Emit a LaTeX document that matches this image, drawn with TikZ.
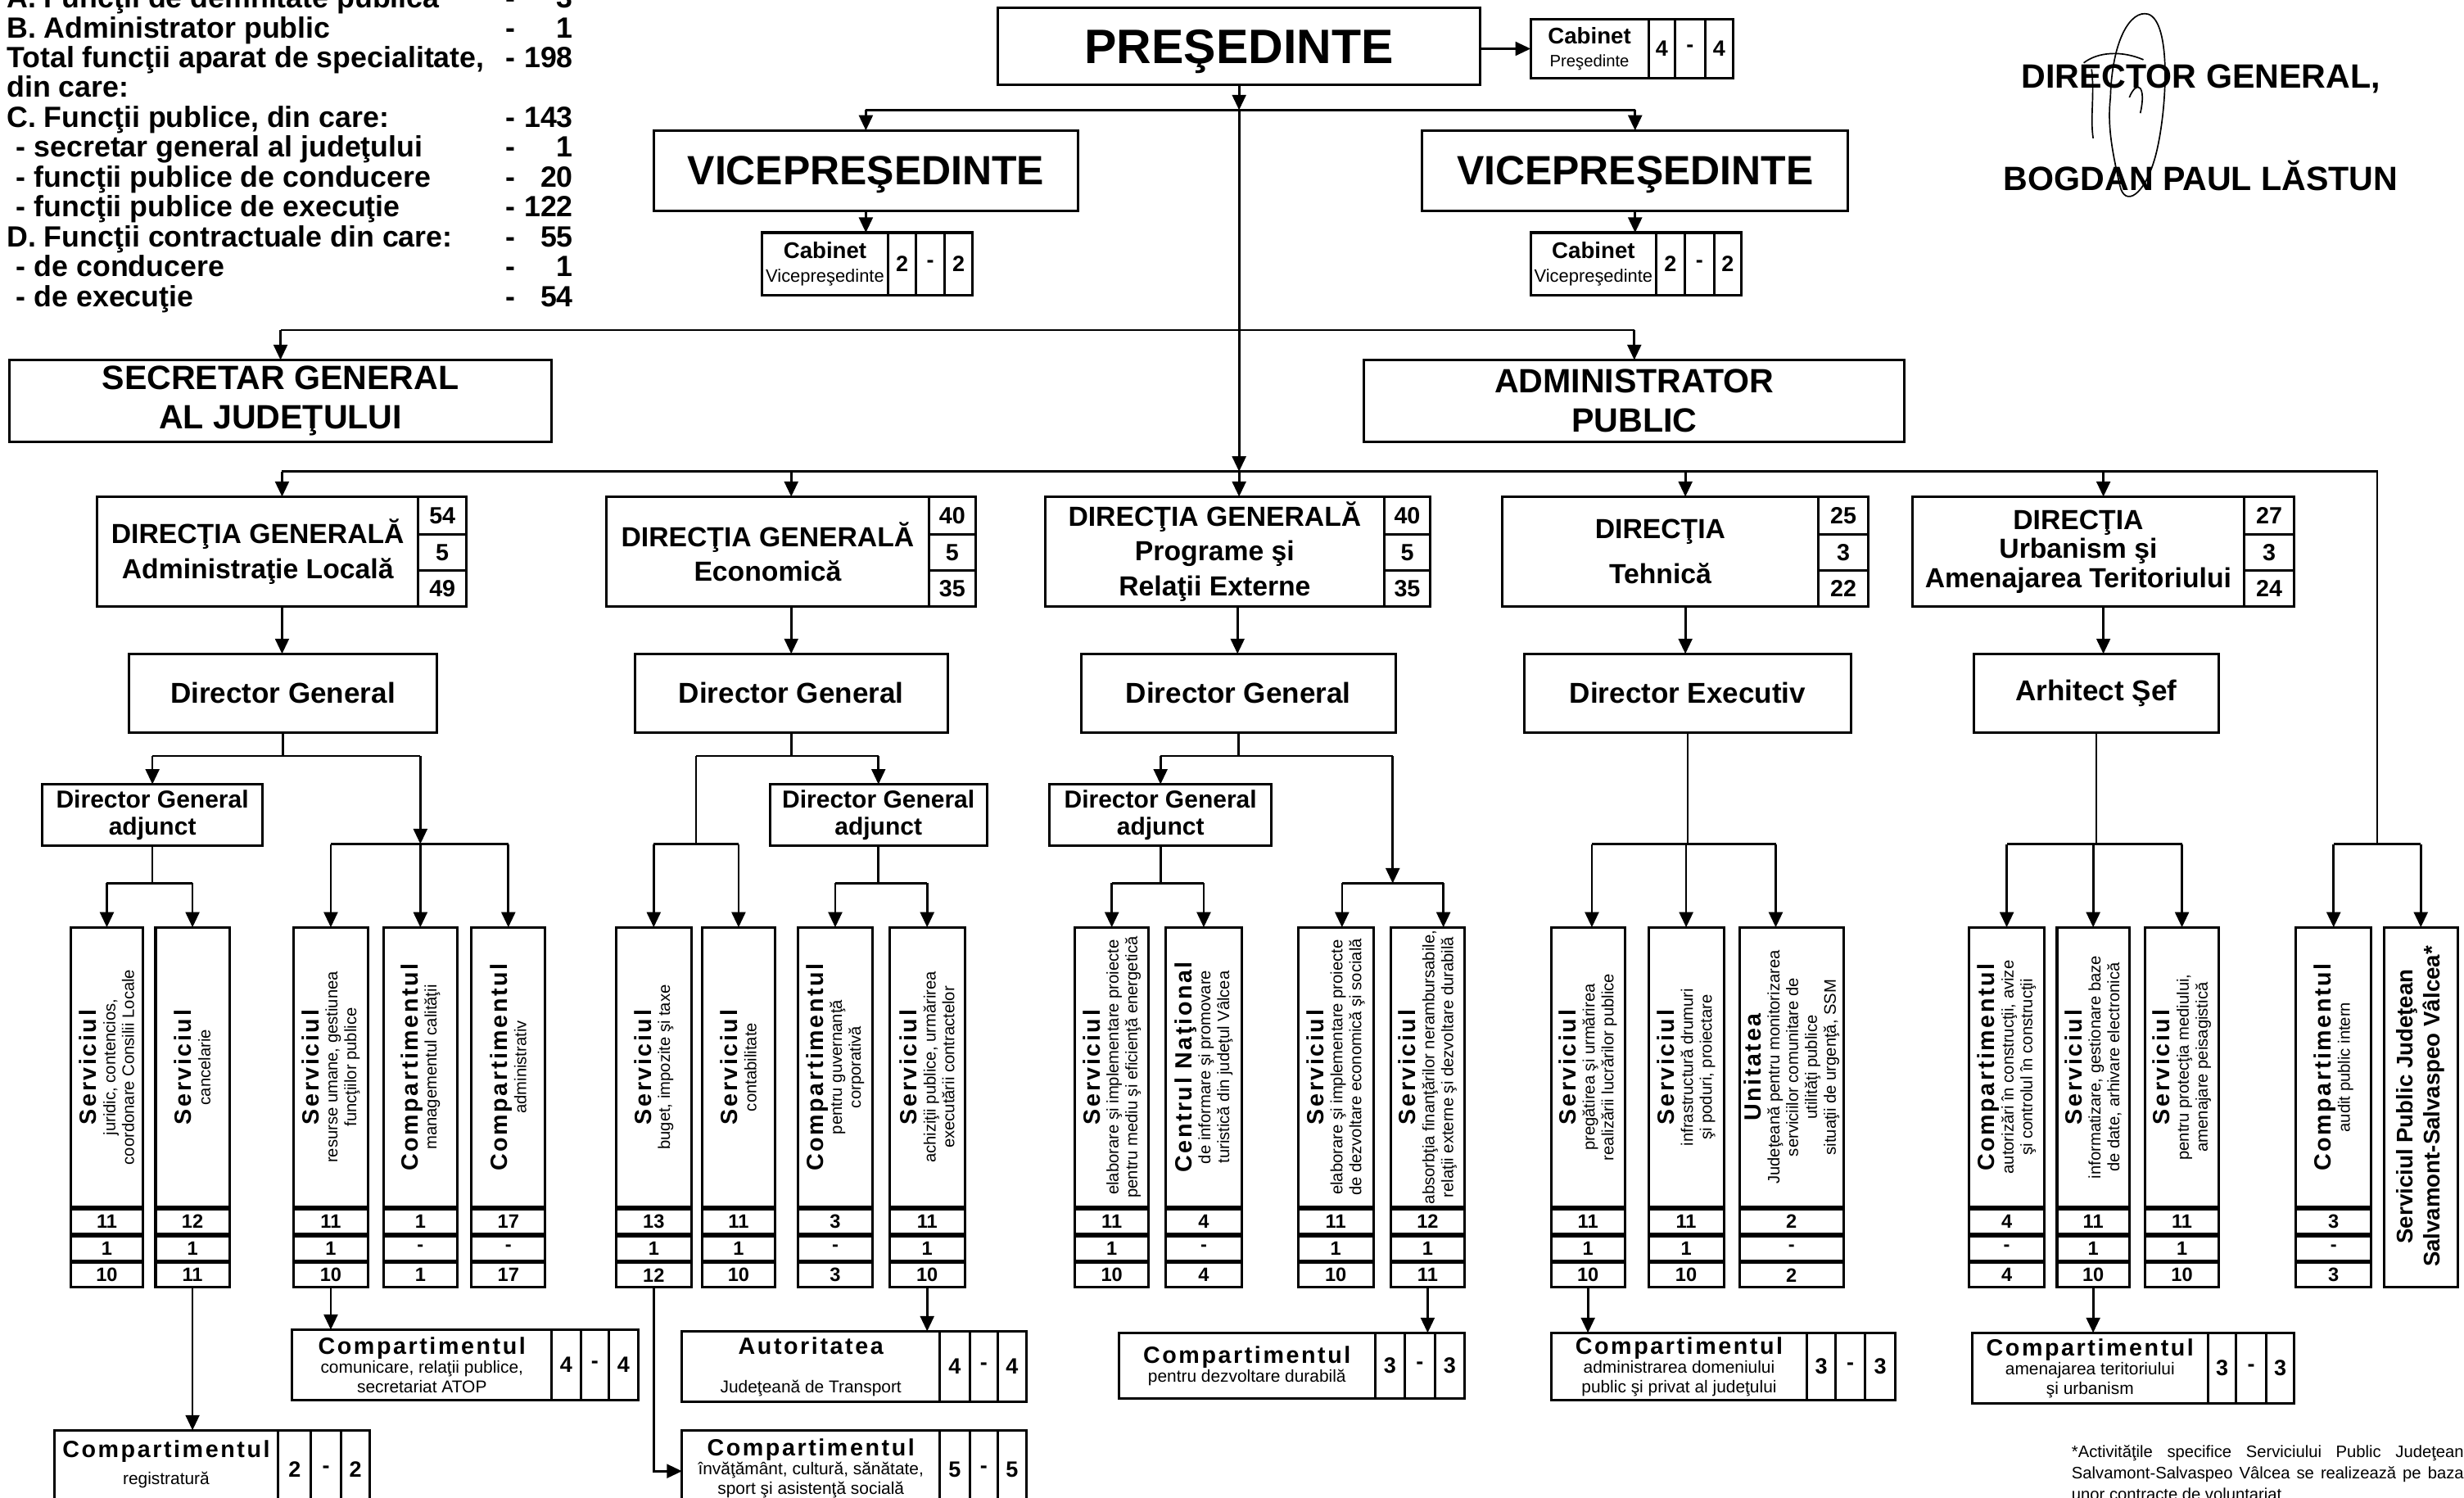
\documentclass[tikz,border=0pt]{standalone}
\usepackage{fontspec}
\setmainfont{Liberation Sans}
\newfontfamily\spcfam{Liberation Sans}[LetterSpace=9]
\usetikzlibrary{arrows.meta,calc}
\newcommand\fsz[2]{\fontsize{#1}{#2}\selectfont}
\newcommand\ttl[1]{{\spcfam\bfseries\fsz{8.5}{9}#1}}
\newcommand\vnum{\bfseries\fsz{7}{8}}
\newcommand\cnum{\bfseries\fsz{8}{9}}
\newcommand\dnum{\bfseries\fsz{8.5}{9}}
\tikzset{
  bx/.style={draw,line width=0.9pt,inner sep=0pt,outer sep=0pt,align=center},
  con/.style={line width=0.8pt},
  arr/.style={line width=0.8pt,-{Triangle[length=5.5pt,width=5pt]}},
  stat/.style={inner sep=0pt,font=\bfseries\fsz{10.6}{12}},
}
% box from corners: [opts]{x1}{y1}{x2}{y2}{name}{text}
\newcommand\bx[7][]{\node[bx,minimum width={(#4-#2)*0.02cm},minimum height={(#5-#3)*0.02cm},#1] (#6) at ({(#2+#4)/2},{(#3+#5)/2}) {#7};}
% three number cells: name, xa, xb, xc, xd, y1, y2, n1, n3
\newcommand\tri[9]{%
  \bx[font=\cnum]{#2}{#6}{#3}{#7}{#1a}{#8}%
  \bx[font=\cnum]{#3}{#6}{#4}{#7}{#1b}{-}%
  \bx[font=\cnum]{#4}{#6}{#5}{#7}{#1c}{#9}}
% vertical column: name, x1, x2, content, n1, n2, n3
\newcommand\col[7]{%
  \bx{#2}{590}{#3}{768}{#1}{}%
  \node[rotate=90,align=center,inner sep=0pt,font=\fsz{6}{6.8}] (#1t) at ({(#2+#3)/2},679) {#4};%
  \bx[font=\vnum]{#2}{769.5}{#3}{785}{#1a}{#5}%
  \bx[font=\vnum]{#2}{786.5}{#3}{802}{#1b}{#6}%
  \bx[font=\vnum]{#2}{803.5}{#3}{819}{#1c}{#7}}
% direction box: name, x1, xcells, x2, text, n1, n2, n3
\newcommand\dgbox[8]{%
  \bx{#2}{316}{#4}{386}{#1}{}%
  \node[font=\bfseries\fsz{10}{12.5},align=center,inner sep=0pt] (#1x) at ({(#2+#3)/2},351) {#5};%
  \bx[font=\dnum]{#3}{316}{#4}{340}{#1a}{#6}%
  \bx[font=\dnum]{#3}{340}{#4}{363}{#1b}{#7}%
  \bx[font=\dnum]{#3}{363}{#4}{386}{#1c}{#8}}
\newcommand\statline[4]{\node[stat,anchor=base west] (sl#1) at (#2,#3) {#4};}
\newcommand\statnum[3]{\node[stat,anchor=base] (sd#1) at (325,#2) {-};\node[stat,anchor=base east] (sn#1) at (365,#2) {#3};}
\begin{document}
\begin{tikzpicture}[x=0.02cm,y=-0.02cm]
\useasboundingbox (0,0) rectangle (1568,953);
\fill[white] (0,0) rectangle (1568,953);

% ---------- statistics ----------
\statline{1}{4}{5}{A. Funcţii de demnitate publică}\statnum{1}{5}{3}
\statline{2}{4}{24}{B. Administrator public}\statnum{2}{24}{1}
\statline{3}{4}{43}{Total funcţii aparat de specialitate,}\statnum{3}{43}{198}
\statline{4}{4}{62}{din care:}
\statline{5}{4}{81}{C. Funcţii publice, din care:}\statnum{5}{81}{143}
\statline{6}{10}{100}{- secretar general al judeţului}\statnum{6}{100}{1}
\statline{7}{10}{119}{- funcţii publice de conducere}\statnum{7}{119}{20}
\statline{8}{10}{138}{- funcţii publice de execuţie}\statnum{8}{138}{122}
\statline{9}{4}{157}{D. Funcţii contractuale din care:}\statnum{9}{157}{55}
\statline{10}{10}{176}{- de conducere}\statnum{10}{176}{1}
\statline{11}{10}{195}{- de execuţie}\statnum{11}{195}{54}

% ---------- signature ----------
\node[font=\bfseries\fsz{12.2}{14},inner sep=0pt] (sig1) at (1400.5,50) {DIRECTOR GENERAL,};
\node[font=\bfseries\fsz{12.2}{14},inner sep=0pt] (sig2) at (1400.5,112) {BOGDAN PAUL LĂSTUN};
\draw[line width=0.5pt] (1343,62) .. controls (1344,25) and (1356,6) .. (1367,9) .. controls (1382,14) and (1379,70) .. (1372,98) .. controls (1365,125) and (1352,132) .. (1349,118) .. controls (1344,96) and (1341,80) .. (1343,62);
\draw[line width=0.5pt] (1326,40) .. controls (1335,33) and (1350,32) .. (1364,38);
\draw[line width=0.5pt] (1331,44) .. controls (1333,60) and (1330,75) .. (1332,88);
\draw[line width=0.5pt] (1355,62) .. controls (1360,50) and (1366,55) .. (1362,72);

% ---------- top level ----------
\bx[font=\bfseries\fsz{17.5}{20},text depth=0pt]{635}{5}{942}{54}{pres}{PREŞEDINTE}
\bx[font=\fsz{6}{8.5}]{974}{12}{1049}{50}{cpt}{{\bfseries\fsz{8.2}{9}Cabinet}\\Preşedinte}
\tri{cp}{1049}{1066}{1085}{1103}{12}{50}{4}{4}
\bx[font=\bfseries\fsz{14.8}{17},text depth=0pt]{416}{83}{686}{134}{vp1}{VICEPREŞEDINTE}
\bx[font=\bfseries\fsz{14.8}{17},text depth=0pt]{905}{83}{1176}{134}{vp2}{VICEPREŞEDINTE}
\bx[font=\fsz{6.5}{8.5}]{485}{148}{565}{188}{cv1t}{{\bfseries\fsz{8.2}{9}Cabinet}\\Vicepreşedinte}
\tri{cv1}{565}{583}{601}{619}{148}{188}{2}{2}
\bx[font=\fsz{6.5}{8.5}]{974}{148}{1054}{188}{cv2t}{{\bfseries\fsz{8.2}{9}Cabinet}\\Vicepreşedinte}
\tri{cv2}{1054}{1072}{1091}{1108}{148}{188}{2}{2}
\bx[font=\bfseries\fsz{12.2}{14.2}]{6}{229}{351}{281}{sec}{SECRETAR GENERAL\\AL JUDEŢULUI}
\bx[font=\bfseries\fsz{12.2}{14.2}]{868}{229}{1212}{281}{adm}{ADMINISTRATOR\\PUBLIC}

% ---------- directions ----------
\dgbox{dg1}{62}{266}{297}{DIRECŢIA GENERALĂ\\Administraţie Locală}{54}{5}{49}
\dgbox{dg2}{386}{591}{621}{DIRECŢIA GENERALĂ\\Economică}{40}{5}{35}
\dgbox{dg3}{665}{881}{910}{DIRECŢIA GENERALĂ\\Programe şi\\Relaţii Externe}{40}{5}{35}
\dgbox{dg4}{956}{1157}{1189}{DIRECŢIA\\[4pt]Tehnică}{25}{3}{22}
\dgbox{dg5}{1217}{1428}{1460}{DIRECŢIA\\[-2pt]Urbanism şi\\[-2pt]Amenajarea Teritoriului}{27}{3}{24}

\bx[font=\bfseries\fsz{10.4}{12}]{82}{416}{278}{466}{dir1}{Director General}
\bx[font=\bfseries\fsz{10.4}{12}]{404}{416}{603}{466}{dir2}{Director General}
\bx[font=\bfseries\fsz{10.4}{12}]{688}{416}{888}{466}{dir3}{Director General}
\bx[font=\bfseries\fsz{10.4}{12}]{970}{416}{1178}{466}{dir4}{Director Executiv}
\bx[font=\bfseries\fsz{10.4}{12}]{1256}{416}{1412}{466}{dir5}{Arhitect Şef}

\bx[font=\bfseries\fsz{8.9}{9.8}]{27}{499}{167}{538}{adj1}{Director General\\adjunct}
\bx[font=\bfseries\fsz{8.9}{9.8}]{490}{499}{628}{538}{adj2}{Director General\\adjunct}
\bx[font=\bfseries\fsz{8.9}{9.8}]{668}{499}{809}{538}{adj3}{Director General\\adjunct}

% ---------- columns ----------
\col{s11}{45}{91}{\ttl{Serviciul}\\juridic, contencios,\\coordonare Consilii Locale}{11}{1}{10}
\col{s12}{99}{146}{\ttl{Serviciul}\\cancelarie}{12}{1}{11}
\col{s13}{187}{234}{\ttl{Serviciul}\\resurse umane, gestiunea\\funcţiilor publice}{11}{1}{10}
\col{s14}{244}{291}{\ttl{Compartimentul}\\managementul calităţii}{1}{-}{1}
\col{s15}{300}{347}{\ttl{Compartimentul}\\administrativ}{17}{-}{17}
\col{s21}{392}{440}{\ttl{Serviciul}\\buget, impozite şi taxe}{13}{1}{12}
\col{s22}{447}{493}{\ttl{Serviciul}\\contabilitate}{11}{1}{10}
\col{s23}{508}{555}{\ttl{Compartimentul}\\pentru guvernanţă\\corporativă}{3}{-}{3}
\col{s24}{566}{614}{\ttl{Serviciul}\\achiziţii publice, urmărirea\\executării contractelor}{11}{1}{10}
\col{s31}{684}{731}{\ttl{Serviciul}\\elaborare şi implementare proiecte\\pentru mediu şi eficienţă energetică}{11}{1}{10}
\col{s32}{742}{790}{\ttl{Centrul Naţional}\\de informare şi promovare\\turistică din judeţul Vâlcea}{4}{-}{4}
\col{s33}{826}{874}{\ttl{Serviciul}\\elaborare şi implementare proiecte\\de dezvoltare economică şi socială}{11}{1}{10}
\col{s34}{885}{932}{\ttl{Serviciul}\\absorbţia finanţărilor nerambursabile,\\relaţii externe şi dezvoltare durabilă}{12}{1}{11}
\col{s41}{987}{1034}{\ttl{Serviciul}\\pregătirea şi urmărirea\\realizării lucrărilor publice}{11}{1}{10}
\col{s42}{1049}{1097}{\ttl{Serviciul}\\infrastructură drumuri\\şi poduri, proiectare}{11}{1}{10}
\col{s43}{1107}{1173}{\ttl{Unitatea}\\Judeţeană pentru monitorizarea\\serviciilor comunitare de\\utilităţi publice\\situaţii de urgenţă, SSM}{2}{-}{2}
\col{s51}{1253}{1301}{\ttl{Compartimentul}\\autorizări în construcţii, avize\\şi controlul în construcţii}{4}{-}{4}
\col{s52}{1309}{1355}{\ttl{Serviciul}\\informatizare, gestionare baze\\de date, arhivare electronică}{11}{1}{10}
\col{s53}{1365}{1412}{\ttl{Serviciul}\\pentru protecţia mediului,\\amenajare peisagistică}{11}{1}{10}
\col{s61}{1461}{1509}{\ttl{Compartimentul}\\audit public intern}{3}{-}{3}
\bx{1517}{590}{1564}{819}{s62}{}
\node[rotate=90,align=center,inner sep=0pt,font=\bfseries\fsz{8.2}{9.8}] (s62t) at (1540.5,704) {Serviciul Public Judeţean\\Salvamont-Salvaspeo Vâlcea*};

% ---------- bottom boxes ----------
\bx{34.5}{910}{177}{962}{regt}{}
\node[align=center,inner sep=0pt,anchor=north,font=\fsz{6.2}{8}] (regx) at ($(regt.north)+(0,6)$) {\ttl{Compartimentul}\\[2pt]registratură};
\tri{reg}{177}{198}{217}{235.5}{910}{960}{2}{2}
\bx[font=\fsz{6.2}{7}]{186}{846}{351}{891}{comt}{\ttl{Compartimentul}\\comunicare, relaţii publice,\\secretariat ATOP}
\tri{com}{351}{369.5}{387.6}{406}{846}{891}{4}{4}
\bx[font=\fsz{6.2}{7}]{434}{847}{598}{892}{autt}{\ttl{Autoritatea}\\[7pt]Judeţeană de Transport}
\tri{aut}{598}{617}{635}{653}{847}{892}{4}{4}
\bx{434}{910}{598}{962}{invt}{}
\node[align=center,inner sep=0pt,anchor=north,font=\fsz{6.2}{7}] (invx) at ($(invt.north)+(0,5)$) {\ttl{Compartimentul}\\învăţământ, cultură, sănătate,\\sport şi asistenţă socială};
\tri{inv}{598}{617}{635}{653}{910}{960}{5}{5}
\bx[font=\fsz{6.2}{7}]{712}{848}{875}{890}{ddt}{\ttl{Compartimentul}\\pentru dezvoltare durabilă}
\tri{dd}{875}{894}{913}{932}{848}{890}{3}{3}
\bx[font=\fsz{6.2}{7}]{987}{848}{1150}{891}{domt}{\ttl{Compartimentul}\\administrarea domeniului\\public şi privat al judeţului}
\tri{dom}{1150}{1168}{1187}{1206}{848}{891}{3}{3}
\bx[font=\fsz{6.2}{7}]{1255}{848}{1405}{893}{amet}{\ttl{Compartimentul}\\amenajarea teritoriului\\şi urbanism}
\tri{ame}{1405}{1423}{1442}{1460}{848}{893}{3}{3}

\node[anchor=north west,inner sep=0pt,text width=142pt,align=justify,font=\fsz{6}{7.7},execute at begin node={\hyphenpenalty=10000\exhyphenpenalty=10000}] (note) at (1318,919) {*Activităţile specifice Serviciului Public Judeţean Salvamont-Salvaspeo Vâlcea se realizează pe baza unor contracte de voluntariat};

% ---------- connectors: top ----------
\coordinate (j0) at ($(pres.south)+(0,16)$);
\coordinate (j1) at ($(pres.south)+(0,156)$);
\coordinate (j2) at ($(pres.south)+(0,246)$);
\draw[arr] (pres.south) -- (j0);
\draw[arr] (pres.east |- cpt.west) -- (cpt.west);
\draw[con] (vp1.north |- j0) -- (vp2.north |- j0);
\draw[arr] (vp1.north |- j0) -- (vp1.north);
\draw[arr] (vp2.north |- j0) -- (vp2.north);
\draw[arr] (vp1.south) -- (vp1.south |- cv1t.north);
\draw[arr] (vp2.south) -- (vp2.south |- cv2t.north);
\draw[arr] (j0) -- (j2);
\draw[con] (sec.north |- j1) -- (adm.north |- j1);
\draw[arr] (sec.north |- j1) -- (sec.north);
\draw[arr] (adm.north |- j1) -- (adm.north);
\coordinate (r0) at ($(s61.north)!0.5!(s62.north)$);
\coordinate (a3) at ($(s14.north)+(0,-53)$);
\draw[con] (dg1.north |- j2) -- (r0 |- j2) -- (r0 |- a3);
\foreach \d in {dg1,dg2,dg4,dg5} \draw[arr] (\d.north |- j2) -- (\d.north);
\draw[arr] (j2) -- (j2 |- dg3.north);
\foreach \d/\e in {dg1/dir1,dg2/dir2,dg3/dir3,dg4/dir4,dg5/dir5} \draw[arr] (\d.south) -- (\d.south |- \e.north);

% ---------- Administratie Locala ----------
\coordinate (a1) at ($(dir1.south)+(0,15)$);
\coordinate (a2) at ($(adj1.south)+(0,24)$);
\draw[con] (dir1.south) -- (a1);
\draw[con] (adj1.north |- a1) -- (s14.north |- a1);
\draw[arr] (adj1.north |- a1) -- (adj1.north);
\draw[con] (adj1.south) -- (a2);
\draw[con] (s11.north |- a2) -- (s12.north |- a2);
\foreach \s in {s11,s12} \draw[arr] (\s.north |- a2) -- (\s.north);
\draw[arr] (s14.north |- a1) -- (a3);
\draw[con] (s13.north |- a3) -- (s15.north |- a3);
\foreach \s in {s13,s14,s15} \draw[arr] (\s.north |- a3) -- (\s.north);

% ---------- Economica ----------
\coordinate (e1) at ($(dir2.south)+(0,15)$);
\coordinate (e2) at ($(s21.north)!0.5!(s22.north)$);
\coordinate (e4) at ($(adj2.south)+(0,24)$);
\draw[con] (dir2.south) -- (e1);
\draw[con] (e2 |- e1) -- (adj2.north |- e1);
\draw[con] (e2 |- e1) -- (e2 |- a3);
\draw[con] (s21.north |- a3) -- (s22.north |- a3);
\foreach \s in {s21,s22} \draw[arr] (\s.north |- a3) -- (\s.north);
\draw[arr] (adj2.north |- e1) -- (adj2.north);
\draw[con] (adj2.south) -- (e4);
\draw[con] (s23.north |- e4) -- (s24.north |- e4);
\foreach \s in {s23,s24} \draw[arr] (\s.north |- e4) -- (\s.north);

% ---------- Programe ----------
\coordinate (p1) at ($(dir3.south)+(0,15)$);
\coordinate (p2) at ($(s33.north)+(4,0)$);
\coordinate (p3) at ($(s34.north)+(10,0)$);
\coordinate (p4) at ($(p2)!0.5!(p3)$);
\coordinate (p5) at ($(adj3.south)+(0,24)$);
\draw[con] (dir3.south) -- (p1);
\draw[con] (adj3.north |- p1) -- (p4 |- p1);
\draw[arr] (adj3.north |- p1) -- (adj3.north);
\draw[arr] (p4 |- p1) -- (p4 |- p5);
\draw[con] (p2 |- p5) -- (p3 |- p5);
\draw[arr] (p2 |- p5) -- (p2);
\draw[arr] (p3 |- p5) -- (p3);
\draw[con] (adj3.south) -- (p5);
\draw[con] (s31.north |- p5) -- (s32.north |- p5);
\foreach \s in {s31,s32} \draw[arr] (\s.north |- p5) -- (\s.north);

% ---------- Tehnica ----------
\coordinate (t1) at ($(s41.north)+(2.5,0)$);
\coordinate (t3) at ($(s43.north)+(-10,0)$);
\draw[con] (dir4.south) -- (dir4.south |- a3);
\draw[con] (t1 |- a3) -- (t3 |- a3);
\draw[arr] (t1 |- a3) -- (t1);
\draw[arr] (s42.north |- a3) -- (s42.north);
\draw[arr] (t3 |- a3) -- (t3);

% ---------- Urbanism ----------
\draw[con] (dir5.south) -- (dir5.south |- a3);
\draw[con] (s51.north |- a3) -- (s53.north |- a3);
\foreach \s in {s51,s52,s53} \draw[arr] (\s.north |- a3) -- (\s.north);

% ---------- right column ----------
\draw[con] (s61.north |- a3) -- (s62.north |- a3);
\foreach \s in {s61,s62} \draw[arr] (\s.north |- a3) -- (\s.north);

% ---------- bottom arrows ----------
\draw[arr] (s12c.south) -- (s12c.south |- regt.north);
\draw[arr] (s13c.south) -- (s13c.south |- comt.north);
\draw[arr] (s24c.south) -- (s24c.south |- autt.north);
\draw[arr] (s21c.south) |- (invt.west);
\draw[arr] (s34c.south) -- (s34c.south |- ddt.north);
\draw[arr] (s41c.south) -- (s41c.south |- domt.north);
\draw[arr] (s52c.south) -- (s52c.south |- amet.north);
\end{tikzpicture}
\end{document}
